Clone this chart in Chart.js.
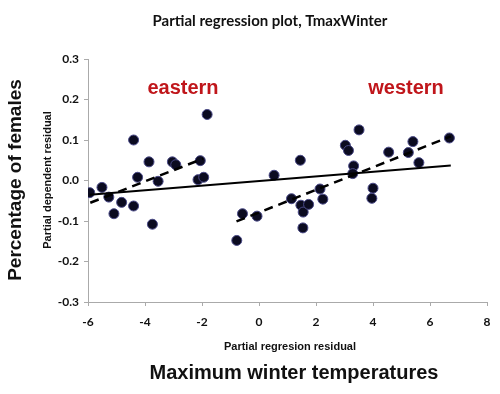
<!DOCTYPE html>
<html>
<head>
<meta charset="utf-8">
<script src="https://cdn.jsdelivr.net/npm/chart.js@4.4.0/dist/chart.umd.min.js"></script>
<style>
  html, body { margin: 0; padding: 0; background: #fff; }
  #wrap { width: 500px; height: 394px; }
</style>
</head>
<body>
<div id="wrap"><canvas id="prChart" width="500" height="394"></canvas></div>
<script>
// eastern group residuals
var eastX = [-5.94, -5.51, -5.27, -5.09, -4.82, -4.40, -4.40, -4.26, -3.86, -3.74, -3.54, -3.04, -2.92, -2.14, -2.06, -1.94, -1.82];
var eastY = [-0.030, -0.017, -0.041, -0.082, -0.054, 0.100, -0.063, 0.008, 0.046, -0.108, -0.002, 0.046, 0.039, 0.002, 0.049, 0.008, 0.163];
// western group residuals
var westX = [-0.78, -0.58, -0.07, 0.53, 1.14, 1.45, 1.47, 1.55, 1.74, 1.54, 2.14, 2.24, 3.03, 3.14, 3.32, 3.29, 3.51, 4.00, 3.96, 4.55, 5.24, 5.40, 5.61, 6.68];
var westY = [-0.148, -0.082, -0.088, 0.013, -0.045, 0.050, -0.061, -0.078, -0.059, -0.117, -0.021, -0.046, 0.087, 0.074, 0.036, 0.017, 0.125, -0.019, -0.044, 0.070, 0.069, 0.096, 0.044, 0.105];
// fitted lines (end points)
var allFitX = [-5.94, 6.73];
var allFitY = [-0.035, 0.037];
var eastFitX = [-5.92, -1.96];
var eastFitY = [-0.055, 0.054];
var westFitX = [-0.79, 6.73];
var westFitY = [-0.101, 0.109];

var xTicks = [-6, -4, -2, 0, 2, 4, 6, 8];
var yTicks = [-0.3, -0.2, -0.1, 0.0, 0.1, 0.2, 0.3];

function pts(xs, ys) {
    return xs.map(function (x, i) { return { x: x, y: ys[i] }; });
}

var labelsPlugin = {
    id: 'labels',
    afterDraw: function (chart) {
        var ctx = chart.ctx;
        ctx.save();
        ctx.textAlign = 'center';
        ctx.textBaseline = 'middle';

        ctx.fillStyle = '#111';
        ctx.font = 'bold 15px Lato';
        ctx.fillText('Partial regression plot, TmaxWinter', 270, 21);

        ctx.fillStyle = '#c0161b';
        ctx.font = 'bold 20px "Liberation Sans"';
        ctx.fillText('eastern', 183, 88);
        ctx.fillText('western', 406, 88);

        ctx.fillStyle = '#111';
        ctx.font = 'bold 11px "Liberation Sans"';
        ctx.fillText('Partial regresion residual', 290, 347);
        ctx.font = 'bold 20px "Liberation Sans"';
        ctx.fillText('Maximum winter temperatures', 294, 373);

        ctx.save();
        ctx.translate(48, 180);
        ctx.rotate(-Math.PI / 2);
        ctx.font = 'bold 11px "Liberation Sans"';
        ctx.fillText('Partial dependent residual', 0, 0);
        ctx.restore();

        ctx.save();
        ctx.translate(16, 180);
        ctx.rotate(-Math.PI / 2);
        ctx.font = 'bold 19px "Liberation Sans"';
        ctx.fillText('Percentage of females', 0, 0);
        ctx.restore();

        ctx.restore();
    }
};

var dotFill = '#0b0b20';
var dotEdge = '#4a4a88';

var ctx = document.getElementById('prChart').getContext('2d');
var chart = new Chart(ctx, {
    type: 'scatter',
    data: {
        datasets: [{
            label: 'all fit',
            data: pts(allFitX, allFitY),
            showLine: true,
            borderColor: '#000',
            borderWidth: 2,
            pointRadius: 0,
            fill: false
        }, {
            label: 'eastern fit',
            data: pts(eastFitX, eastFitY),
            showLine: true,
            borderColor: '#000',
            borderWidth: 2.5,
            borderDash: [9, 6],
            pointRadius: 0,
            fill: false
        }, {
            label: 'western fit',
            data: pts(westFitX, westFitY),
            showLine: true,
            borderColor: '#000',
            borderWidth: 2.5,
            borderDash: [9, 6],
            pointRadius: 0,
            fill: false
        }, {
            label: 'eastern',
            data: pts(eastX, eastY),
            backgroundColor: dotFill,
            borderColor: dotEdge,
            borderWidth: 1,
            pointRadius: 5
        }, {
            label: 'western',
            data: pts(westX, westY),
            backgroundColor: dotFill,
            borderColor: dotEdge,
            borderWidth: 1,
            pointRadius: 5
        }]
    },
    options: {
        responsive: false,
        animation: false,
        layout: { padding: { top: 59, right: 13, bottom: 0, left: 0 } },
        plugins: {
            legend: { display: false },
            title: { display: false },
            tooltip: { enabled: false }
        },
        scales: {
            x: {
                type: 'linear',
                min: -6,
                max: 8,
                afterFit: function (s) { s.height = 92; },
                afterBuildTicks: function (s) { s.ticks = xTicks.map(function (v) { return { value: v }; }); },
                grid: { display: true, drawOnChartArea: false, tickLength: 4, color: '#aaa' },
                border: { color: '#aaa', width: 1 },
                ticks: {
                    padding: 9,
                    color: '#111',
                    font: { family: 'Lato', size: 12, weight: 'bold' },
                    maxRotation: 0
                }
            },
            y: {
                type: 'linear',
                min: -0.3,
                max: 0.3,
                afterFit: function (s) { s.width = 88; },
                afterBuildTicks: function (s) { s.ticks = yTicks.map(function (v) { return { value: v }; }); },
                grid: { display: true, drawOnChartArea: false, tickLength: 4, color: '#aaa' },
                border: { color: '#aaa', width: 1 },
                ticks: {
                    padding: 5,
                    color: '#111',
                    font: { family: 'Lato', size: 12, weight: 'bold' },
                    callback: function (v) { return Number(v).toFixed(1); }
                }
            }
        }
    },
    plugins: [labelsPlugin]
});
</script>
</body>
</html>
